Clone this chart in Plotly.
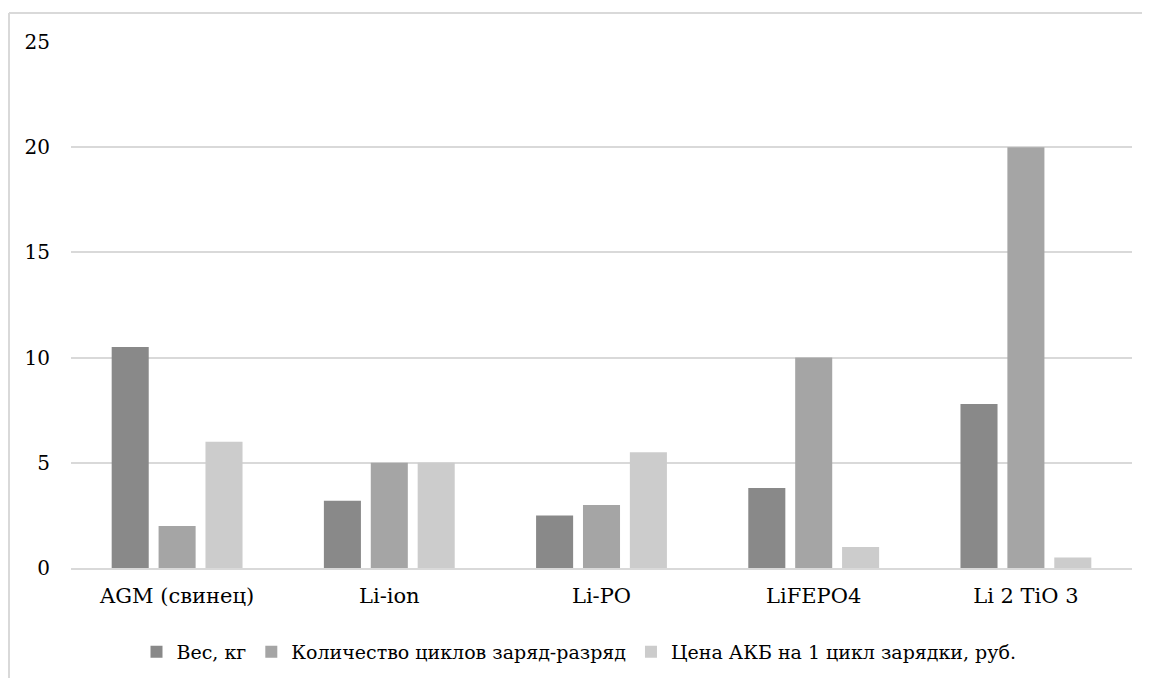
import plotly.graph_objects as go

categories = ["AGM (свинец)", "Li-ion", "Li-PO", "LiFEPO4", "Li 2 TiO 3"]
series_names = ["Вес, кг", "Количество циклов заряд-разряд", "Цена АКБ на 1 цикл зарядки, руб."]
weight = [10.5, 3.2, 2.5, 3.8, 7.8]
cycles = [2, 5, 3, 10, 20]
price = [6, 5, 5.5, 1, 0.5]
colors = ["#898989", "#a5a5a5", "#cccccc"]
y_ticks = [0, 5, 10, 15, 20, 25]

fig = go.Figure()
for name, vals, col in zip(series_names, [weight, cycles, price], colors):
    fig.add_trace(go.Bar(x=categories, y=vals, name=name, marker=dict(color=col, line=dict(width=0))))

FONT = "DejaVu Serif"
# page has an 8px body margin; figure is sized/offset to compensate
W, H = 1142, 670
pl, pr, pt, pb = 63, 18, 34, 110
pw, ph = W - pl - pr, H - pt - pb
bx = (1 - pl) / pw
by = (H - pb - 5) / ph

fig.update_layout(
    width=W, height=H,
    margin=dict(l=pl, r=pr, t=pt, b=pb),
    paper_bgcolor="white", plot_bgcolor="white",
    barmode="group", bargap=0.337, bargroupgap=0.21,
    font=dict(family=FONT, color="#000000", size=20),
    showlegend=True,
    legend=dict(orientation="h", xref="container", yref="container", x=0.5, xanchor="center",
                y=(670 - 644) / 670, yanchor="middle", font=dict(size=19, family=FONT),
                itemwidth=30, traceorder="normal"),
    xaxis=dict(showgrid=False, showline=True, linecolor="#d9d9d9", linewidth=2, ticks="",
               tickfont=dict(size=21, family=FONT), ticklabelstandoff=8),
    yaxis=dict(range=[0, 25], tickvals=y_ticks, showgrid=True, gridcolor="#d9d9d9", gridwidth=1.5,
               zeroline=False, showline=False, ticks="", tickfont=dict(size=20, family=FONT),
               ticklabelstandoff=20),
    shapes=[
        dict(type="line", xref="paper", yref="paper", x0=bx, x1=bx, y0=-0.25, y1=by,
             line=dict(color="#d9d9d9", width=2)),
        dict(type="line", xref="paper", yref="paper", x0=bx, x1=1.05, y0=by, y1=by,
             line=dict(color="#d9d9d9", width=2)),
    ],
)

fig.write_html("out.html")
